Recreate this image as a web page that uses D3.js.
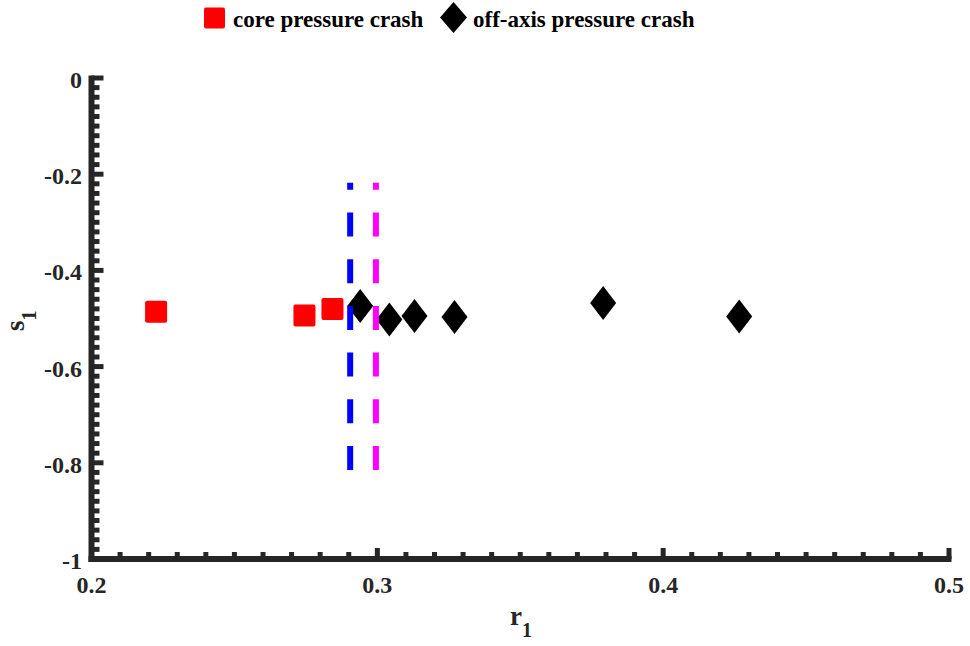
<!DOCTYPE html>
<html>
<head>
<meta charset="utf-8">
<script src="https://cdn.jsdelivr.net/npm/d3@7"></script>
<style>
  html, body { margin: 0; padding: 0; background: #fff; }
  svg { display: block; }
  text { font-family: "Liberation Serif", "Times New Roman", serif; font-weight: bold; }
</style>
</head>
<body>
<svg id="chart" width="970" height="646"></svg>
<script>
// Core pressure crash cases (r1, s1)
const coreR = [0.2226, 0.2745, 0.2843];
const coreS = [-0.486, -0.494, -0.480];

// Off-axis pressure crash cases (r1, s1)
const offR = [0.2940, 0.3042, 0.3130, 0.3270, 0.3790, 0.4266];
const offS = [-0.474, -0.502, -0.495, -0.497, -0.468, -0.496];

// Vertical dashed reference lines
const refR = [0.2905, 0.2995];
const refColors = ["#0000ff", "#ff00ff"];
const refS = [-0.815, -0.218];

// Axis ticks
const xTicks = [0.2, 0.3, 0.4, 0.5];
const yTicks = [-1, -0.8, -0.6, -0.4, -0.2, 0];
const xTickLabels = ["0.2", "0.3", "0.4", "0.5"];
const yTickLabels = ["-1", "-0.8", "-0.6", "-0.4", "-0.2", "0"];

// Legend entries
const legendLabels = ["core pressure crash", "off-axis pressure crash"];

const svg = d3.select("#chart");
const axisColor = "#262626";

const x = d3.scaleLinear().domain([0.2, 0.5]).range([91.5, 949]);
const y = d3.scaleLinear().domain([-1, 0]).range([559, 78]);

// Minor ticks: every 0.01 on r1, every 0.02 on s1
const xMinor = d3.range(0, 31).map(i => 0.2 + i * 0.01);
const yMinor = d3.range(0, 51).map(i => -1 + i * 0.02);
const isMajor = (v, step) => Math.abs(v / step - Math.round(v / step)) < 1e-6;

const axes = svg.append("g");

// x minor/major ticks pointing inward (up)
axes.selectAll("line.xt").data(xMinor).join("line")
  .attr("x1", d => x(d)).attr("x2", d => x(d))
  .attr("y1", y(-1)).attr("y2", d => y(-1) - (isMajor(d, 0.1) ? 11 : 7))
  .attr("stroke", axisColor).attr("stroke-width", 5);

// y minor/major ticks pointing inward (right)
axes.selectAll("line.yt").data(yMinor).join("line")
  .attr("y1", d => y(d)).attr("y2", d => y(d))
  .attr("x1", x(0.2)).attr("x2", d => x(0.2) + (isMajor(d, 0.2) ? 12 : 8))
  .attr("stroke", axisColor).attr("stroke-width", 5);

// Axis lines
axes.append("line")
  .attr("x1", x(0.2) - 3).attr("x2", x(0.5) + 2.5)
  .attr("y1", y(-1)).attr("y2", y(-1))
  .attr("stroke", axisColor).attr("stroke-width", 6);
axes.append("line")
  .attr("x1", x(0.2)).attr("x2", x(0.2))
  .attr("y1", y(-1) + 3).attr("y2", y(0) - 2.5)
  .attr("stroke", axisColor).attr("stroke-width", 6);

// Tick labels
axes.selectAll("text.xl").data(xTicks).join("text")
  .attr("x", d => x(d)).attr("y", 593)
  .attr("text-anchor", "middle")
  .attr("font-size", 24).attr("fill", axisColor)
  .text((d, i) => xTickLabels[i]);

axes.selectAll("text.yl").data(yTicks).join("text")
  .attr("x", 82).attr("y", d => y(d) + 10)
  .attr("text-anchor", "end")
  .attr("font-size", 24).attr("fill", axisColor)
  .text((d, i) => yTickLabels[i]);

// Axis titles with subscripts
const xt = svg.append("text")
  .attr("x", 510).attr("y", 625)
  .attr("font-size", 27).attr("fill", axisColor);
xt.append("tspan").text("r");
xt.append("tspan").attr("font-size", 20).attr("dy", 12).text("1");

const yt = svg.append("text")
  .attr("transform", "translate(24,331) rotate(-90)")
  .attr("font-size", 27).attr("fill", axisColor);
yt.append("tspan").text("s");
yt.append("tspan").attr("font-size", 20).attr("dy", 12).text("1");

// Markers
const sq = 22;
svg.append("g").selectAll("rect").data(coreR).join("rect")
  .attr("x", d => x(d) - sq / 2)
  .attr("y", (d, i) => y(coreS[i]) - sq / 2)
  .attr("width", sq).attr("height", sq)
  .attr("rx", 2)
  .attr("fill", "#ff0000");

const dw = 13, dh = 17;
const diamond = (cx, cy, w, h) => `M${cx},${cy - h}L${cx + w},${cy}L${cx},${cy + h}L${cx - w},${cy}Z`;
svg.append("g").selectAll("path").data(offR).join("path")
  .attr("d", (d, i) => diamond(x(d), y(offS[i]), dw, dh))
  .attr("fill", "#000");

// Dashed vertical reference lines, dashes laid from the bottom end
svg.append("g").selectAll("line").data(refR).join("line")
  .attr("x1", d => x(d)).attr("x2", d => x(d))
  .attr("y1", y(refS[0])).attr("y2", y(refS[1]))
  .attr("stroke", (d, i) => refColors[i])
  .attr("stroke-width", 6)
  .attr("stroke-dasharray", "24,22.7");

// Legend
const lg = svg.append("g");
lg.append("rect").attr("x", 204).attr("y", 7.5).attr("width", 21).attr("height", 21)
  .attr("rx", 2).attr("fill", "#ff0000");
lg.append("text").attr("x", 233).attr("y", 27).attr("font-size", 23).attr("fill", "#000")
  .text(legendLabels[0]);
lg.append("path").attr("d", diamond(453.5, 17.5, 13.5, 15.5)).attr("fill", "#000");
lg.append("text").attr("x", 473).attr("y", 27).attr("font-size", 23).attr("fill", "#000")
  .text(legendLabels[1]);
</script>
</body>
</html>
